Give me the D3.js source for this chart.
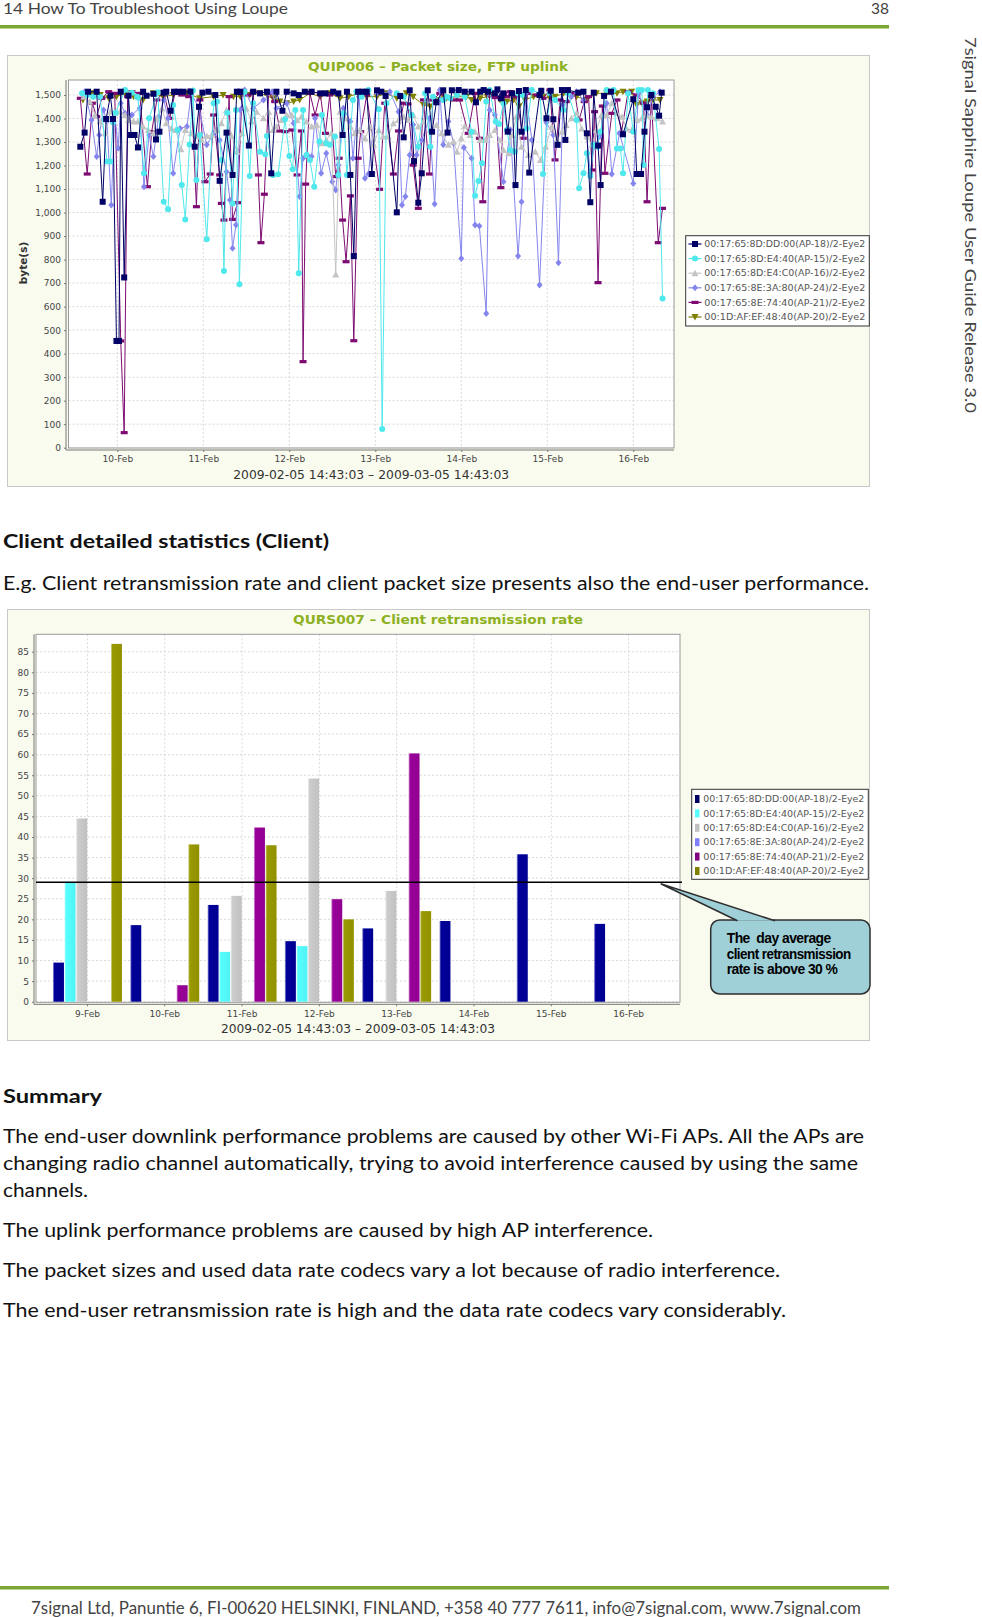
<!DOCTYPE html>
<html><head><meta charset="utf-8">
<script src="https://cdn.jsdelivr.net/npm/d3@7"></script>
<style>html,body{margin:0;padding:0;background:#fff;overflow:hidden}svg{display:block}</style>
</head><body><svg id="page"></svg>
<script>
// ---------------- DATA ----------------
const apNames = ["00:17:65:8D:DD:00(AP-18)/2-Eye2","00:17:65:8D:E4:40(AP-15)/2-Eye2","00:17:65:8D:E4:C0(AP-16)/2-Eye2","00:17:65:8E:3A:80(AP-24)/2-Eye2","00:17:65:8E:74:40(AP-21)/2-Eye2","00:1D:AF:EF:48:40(AP-20)/2-Eye2"];
const lineChartTitle = "QUIP006 \u2013 Packet size, FTP uplink";
const barChartTitle = "QURS007 \u2013 Client retransmission rate";
const dateRangeLabel = "2009-02-05 14:43:03 \u2013 2009-03-05 14:43:03";
const lineYLabel = "byte(s)";
const lineDays = [10,11,12,13,14,15,16];
const lineYTicks = [0,100,200,300,400,500,600,700,800,900,1000,1100,1200,1300,1400,1500];
const barDays = [9,10,11,12,13,14,15,16];
const barYTicks = [0,5,10,15,20,25,30,35,40,45,50,55,60,65,70,75,80,85];
const dayAverage = 29;
const calloutLines = ["The  day average","client retransmission","rate is above 30 %"];

// packet size series: [day of Feb, bytes]
const ap18 = [[9.57,1280],[9.62,1340],[9.66,1514],[9.76,1514],[9.83,1046],[9.87,1398],[9.92,1497],[9.95,1398],[9.99,454],[10.02,454],[10.04,1514],[10.08,724],[10.13,1497],[10.16,1330],[10.20,1330],[10.24,1277],[10.30,1514],[10.34,1497],[10.42,1505],[10.45,1311],[10.49,1344],[10.54,1510],[10.57,1514],[10.62,1433],[10.66,1514],[10.71,1514],[10.77,1514],[10.85,1514],[10.90,1280],[10.95,1450],[10.99,1510],[11.06,1514],[11.14,1500],[11.19,1135],[11.27,1340],[11.34,1160],[11.39,1514],[11.43,1514],[11.53,1285],[11.58,1514],[11.66,1507],[11.74,1514],[11.79,1167],[11.85,1514],[11.92,1433],[11.97,1514],[12.05,1507],[12.11,1500],[12.18,1514],[12.26,1514],[12.36,1507],[12.42,1507],[12.51,1514],[12.57,1507],[12.62,1330],[12.67,1514],[12.71,1160],[12.75,815],[12.80,1514],[12.85,1514],[12.90,1514],[12.96,1164],[13.02,1520],[13.07,1514],[13.12,1496],[13.25,1001],[13.29,1496],[13.33,1320],[13.40,1520],[13.45,1219],[13.50,1042],[13.54,1167],[13.61,1520],[13.66,1344],[13.71,1469],[13.79,1520],[13.84,1340],[13.89,1520],[13.97,1521],[14.04,1514],[14.12,1514],[14.17,1469],[14.22,1514],[14.26,1521],[14.31,1514],[14.39,1507],[14.42,1524],[14.46,1486],[14.49,1507],[14.54,1344],[14.59,1507],[14.63,1117],[14.67,1517],[14.70,1344],[14.75,1521],[14.79,1170],[14.91,1500],[14.93,1518],[14.99,1401],[15.04,1518],[15.07,1397],[15.12,1288],[15.17,1521],[15.21,1309],[15.24,1521],[15.36,1510],[15.42,1514],[15.46,1337],[15.50,1044],[15.54,1510],[15.59,1285],[15.62,1117],[15.66,1496],[15.74,1514],[15.88,1333],[16.00,1482],[16.04,1164],[16.09,1164],[16.13,1344],[16.16,1448],[16.21,1500],[16.26,1450],[16.30,1412],[16.33,1510]];
const ap15 = [[9.59,1507],[9.65,1500],[9.72,1493],[9.80,1493],[9.88,1217],[9.92,1217],[9.95,1384],[9.98,1425],[10.09,1521],[10.17,1510],[10.23,1493],[10.24,1489],[10.31,1167],[10.37,1401],[10.47,1512],[10.54,1046],[10.59,1014],[10.65,1458],[10.70,1351],[10.75,1117],[10.79,971],[10.84,1290],[10.88,1519],[10.92,1139],[10.96,1330],[11.04,886],[11.12,1465],[11.16,1472],[11.21,1224],[11.24,752],[11.28,1425],[11.34,1039],[11.38,1436],[11.42,695],[11.48,1514],[11.54,1156],[11.58,1465],[11.66,1259],[11.72,1248],[11.74,1326],[11.81,1160],[11.87,1163],[11.95,1397],[12.00,1241],[12.04,1184],[12.07,1436],[12.11,742],[12.16,1436],[12.20,1245],[12.24,1224],[12.29,1110],[12.35,1302],[12.38,1415],[12.43,1295],[12.47,1288],[12.53,1323],[12.57,1160],[12.63,1422],[12.67,1160],[12.74,1479],[12.78,1514],[12.84,1493],[12.92,1521],[13.04,1439],[13.08,79],[13.13,1465],[13.25,1507],[13.33,1493],[13.42,1415],[13.50,1280],[13.58,1507],[13.64,1280],[13.67,1493],[13.79,1479],[13.83,1493],[13.87,1486],[13.95,1500],[14.04,1493],[14.12,1344],[14.16,1072],[14.20,1134],[14.24,1210],[14.29,1472],[14.33,1521],[14.40,1387],[14.44,1377],[14.49,1465],[14.53,1351],[14.57,1266],[14.62,1259],[14.66,1507],[14.71,1500],[14.76,1358],[14.82,1521],[14.92,1507],[14.95,1164],[15.03,1507],[15.09,1479],[15.19,1436],[15.24,1507],[15.34,1394],[15.37,1103],[15.42,1167],[15.46,1252],[15.50,1156],[15.54,1288],[15.58,1280],[15.62,1344],[15.69,1521],[15.77,1521],[15.81,1273],[15.85,1273],[15.88,1167],[15.94,1507],[16.00,1344],[16.06,1521],[16.10,1521],[16.12,1202],[16.17,1521],[16.23,1507],[16.30,1270],[16.34,635]];
const ap16 = [[9.61,1493],[9.68,1472],[9.74,1415],[9.80,1387],[9.86,1337],[9.92,1429],[9.97,1422],[10.03,1429],[10.09,1415],[10.13,1394],[10.19,1387],[10.24,1387],[10.30,1366],[10.36,1351],[10.42,1337],[10.46,1401],[10.52,1443],[10.57,1380],[10.63,1358],[10.68,1351],[10.74,1269],[10.79,1351],[10.86,1337],[10.92,1323],[10.98,1309],[11.04,1326],[11.10,1330],[11.16,1351],[11.21,1380],[11.27,1436],[11.33,1326],[11.39,1259],[11.45,1337],[11.50,1443],[11.56,1387],[11.62,1429],[11.70,1401],[11.76,1429],[11.81,1351],[11.85,1366],[11.91,1394],[11.97,1415],[12.03,1415],[12.09,1394],[12.14,1408],[12.20,1387],[12.26,1366],[12.32,1373],[12.38,1295],[12.43,1309],[12.49,1337],[12.54,737],[12.59,1429],[12.65,1401],[12.71,1366],[12.76,1337],[12.82,1351],[12.88,1316],[12.94,1366],[12.98,1288],[13.04,1351],[13.09,1323],[13.15,1323],[13.21,1380],[13.27,1394],[13.33,1408],[13.38,1394],[13.44,1415],[13.50,1366],[13.56,1387],[13.64,1351],[13.71,1372],[13.77,1337],[13.85,1288],[13.91,1302],[13.95,1259],[14.00,1316],[14.04,1368],[14.10,1330],[14.16,1344],[14.22,1309],[14.28,1309],[14.33,1330],[14.39,1351],[14.45,1309],[14.49,1266],[14.55,1252],[14.59,1330],[14.64,1408],[14.70,1280],[14.78,1245],[14.86,1259],[14.92,1224],[14.98,1280],[15.05,1366],[15.11,1309],[15.17,1344],[15.22,1372],[15.28,1401],[15.34,1422],[15.40,1358],[15.46,1323],[15.52,1288],[15.57,1351],[15.63,1415],[15.69,1415],[15.75,1465],[15.81,1422],[15.87,1408],[15.92,1358],[15.98,1351],[16.04,1394],[16.10,1401],[16.15,1415],[16.21,1408],[16.27,1401],[16.34,1387]];
const ap24 = [[9.62,1514],[9.70,1394],[9.76,1238],[9.79,1330],[9.84,1436],[9.88,1387],[9.93,1032],[9.97,1422],[10.01,1274],[10.04,1465],[10.09,1422],[10.17,1415],[10.26,1444],[10.31,1110],[10.37,1330],[10.42,1238],[10.48,1408],[10.54,1479],[10.59,1401],[10.65,1167],[10.73,1358],[10.81,1366],[10.86,1507],[10.95,1444],[11.04,1288],[11.12,1337],[11.19,1309],[11.27,1174],[11.31,1053],[11.34,848],[11.38,947],[11.43,1436],[11.48,1521],[11.58,1444],[11.70,1479],[11.80,1514],[11.85,1444],[11.97,1465],[12.05,1380],[12.12,1068],[12.16,1231],[12.21,1245],[12.26,1238],[12.30,1401],[12.37,1167],[12.43,1252],[12.50,1131],[12.54,1096],[12.57,1202],[12.63,1444],[12.71,1387],[12.74,1231],[12.81,1493],[12.88,1146],[12.92,1164],[13.02,1507],[13.17,1514],[13.27,1429],[13.31,1032],[13.35,1068],[13.40,1245],[13.44,1373],[13.48,1245],[13.54,1309],[13.63,1401],[13.69,1036],[13.75,1521],[13.79,1288],[13.85,1387],[13.91,1295],[14.00,805],[14.03,1277],[14.12,1231],[14.16,947],[14.21,943],[14.29,571],[14.33,1436],[14.39,1415],[14.49,1131],[14.57,1352],[14.66,815],[14.70,1046],[14.75,1507],[14.82,1309],[14.91,692],[14.99,1383],[15.07,1330],[15.13,787],[15.18,1458],[15.28,1493],[15.34,1514],[15.42,1479],[15.50,1167],[15.54,1280],[15.61,1323],[15.69,1465],[15.75,1164],[15.84,1337],[16.00,1124],[16.06,1507],[16.16,1415],[16.23,1493],[16.31,1514]];
const ap21 = [[9.57,1486],[9.65,1164],[9.71,1465],[9.76,1408],[9.82,1486],[9.90,1514],[9.97,1507],[10.04,454],[10.08,64],[10.12,1493],[10.17,1514],[10.26,1507],[10.35,1110],[10.40,1344],[10.46,1479],[10.54,1514],[10.61,1401],[10.67,1507],[10.75,1500],[10.83,1493],[10.86,1521],[10.92,1025],[10.96,1479],[11.02,1131],[11.08,1164],[11.12,1415],[11.19,1160],[11.21,1039],[11.24,968],[11.30,1493],[11.34,971],[11.40,1042],[11.45,1507],[11.52,1500],[11.58,1514],[11.64,1160],[11.67,872],[11.71,1078],[11.76,1507],[11.83,1472],[11.89,1347],[11.95,1344],[12.03,1351],[12.09,1160],[12.14,1347],[12.16,366],[12.19,1121],[12.24,1507],[12.30,1415],[12.36,1507],[12.42,1337],[12.47,1500],[12.54,1153],[12.58,1231],[12.62,968],[12.66,791],[12.71,1071],[12.75,455],[12.80,1231],[12.83,1344],[12.90,1500],[13.05,1099],[13.11,1465],[13.21,1164],[13.27,1347],[13.33,1465],[13.38,1462],[13.44,1202],[13.50,1018],[13.56,1479],[13.63,1164],[13.67,1479],[13.75,1507],[13.83,1486],[13.91,1479],[13.98,1479],[14.08,1337],[14.16,1507],[14.21,1316],[14.25,1046],[14.33,1496],[14.39,1489],[14.46,1106],[14.49,1507],[14.53,1493],[14.57,1514],[14.64,1493],[14.72,1316],[14.77,1507],[14.88,1500],[14.95,1486],[15.03,1521],[15.09,1224],[15.15,1479],[15.22,1472],[15.32,1507],[15.37,1394],[15.43,1472],[15.48,1493],[15.52,1181],[15.55,1429],[15.59,702],[15.64,1453],[15.67,1167],[15.75,1422],[15.81,1479],[15.86,1337],[15.94,1514],[16.04,1500],[16.12,1465],[16.16,1046],[16.21,1493],[16.29,872],[16.34,1018]];
const ap20 = [[9.60,1479],[9.70,1507],[9.80,1500],[9.90,1486],[9.99,1493],[10.09,1507],[10.19,1493],[10.30,1479],[10.42,1507],[10.53,1493],[10.65,1500],[10.81,1507],[10.96,1486],[11.12,1493],[11.23,1500],[11.35,1493],[11.43,1493],[11.54,1500],[11.66,1507],[11.81,1486],[11.89,1472],[11.97,1465],[12.05,1472],[12.12,1479],[12.24,1507],[12.36,1493],[12.47,1507],[12.59,1486],[12.69,1493],[12.80,1507],[12.90,1493],[13.02,1493],[13.13,1507],[13.25,1486],[13.36,1507],[13.44,1493],[13.56,1458],[13.64,1451],[13.71,1479],[13.79,1493],[13.83,1486],[13.95,1493],[14.06,1493],[14.12,1479],[14.22,1486],[14.30,1493],[14.37,1500],[14.45,1479],[14.53,1472],[14.61,1479],[14.67,1451],[14.74,1479],[14.84,1493],[14.95,1493],[15.03,1486],[15.09,1493],[15.19,1507],[15.26,1500],[15.34,1493],[15.46,1479],[15.57,1507],[15.69,1507],[15.81,1507],[15.88,1514],[15.98,1514],[16.04,1458],[16.10,1465],[16.16,1472],[16.23,1479],[16.31,1479]];

// client retransmission rate per day (null = no bar)
const rate18 = [9.5, 18.6, 23.5, 14.7, 17.8, 19.6, 35.8, 18.9];
const rate15 = [28.9, null, 12.1, 13.5, null, null, null, null];
const rate16 = [44.5, null, 25.7, 54.2, 26.9, null, null, null];
const rate24 = [null, null, null, null, null, null, null, null];
const rate21 = [null, 4.0, 42.3, 24.9, 60.3, null, null, null];
const rate20 = [86.9, 38.2, 38.0, 20.0, 22.0, null, null, null];

// ---------------- PAGE ----------------
const W = 982, H = 1617;
const svg = d3.select("#page").attr("width", W).attr("height", H);
svg.append("rect").attr("width", W).attr("height", H).attr("fill", "#fff");
const defs = svg.append("defs");

function txt(g, x, y, s, o) {
  const t = g.append("text").attr("x", x).attr("y", y).text(s)
    .attr("font-family", o.family || "Lato, 'Open Sans', sans-serif")
    .attr("font-size", o.size || 19.5)
    .attr("font-weight", o.weight || 400)
    .attr("fill", o.fill || "#111")
    .attr("text-anchor", o.anchor || "start");
  if (o.len) t.attr("textLength", o.len).attr("lengthAdjust", "spacingAndGlyphs");
  if (o.transform) t.attr("transform", o.transform);
  return t;
}

// header / footer
txt(svg, 3, 14, "14 How To Troubleshoot Using Loupe", {size: 15.5, fill: "#444", len: 285});
txt(svg, 889, 14, "38", {size: 15.5, fill: "#444", anchor: "end"});
svg.append("rect").attr("x", 0).attr("y", 25).attr("width", 889).attr("height", 3.5).attr("fill", "#7aa832");
svg.append("rect").attr("x", 0).attr("y", 1586).attr("width", 889).attr("height", 3.5).attr("fill", "#7aa832");
txt(svg, 31, 1614, "7signal Ltd, Panuntie 6, FI-00620 HELSINKI, FINLAND, +358 40 777 7611, info@7signal.com, www.7signal.com", {size: 17.5, fill: "#444", len: 830});
txt(svg, 0, 0, "7signal Sapphire Loupe User Guide Release 3.0", {size: 15.5, fill: "#444", len: 376, transform: "translate(965,37) rotate(90)"});

// body text
txt(svg, 3, 548.3, "Client detailed statistics (Client)", {weight: 700, len: 326});
txt(svg, 3, 590, "E.g. Client retransmission rate and client packet size presents also the end-user performance.", {len: 866});
txt(svg, 3, 1103.3, "Summary", {weight: 700, len: 99});
txt(svg, 3, 1142.7, "The end-user downlink performance problems are caused by other Wi-Fi APs. All the APs are", {len: 861});
txt(svg, 3, 1170, "changing radio channel automatically, trying to avoid interference caused by using the same", {len: 855});
txt(svg, 3, 1197.3, "channels.", {len: 85});
txt(svg, 3, 1236.7, "The uplink performance problems are caused by high AP interference.", {len: 650});
txt(svg, 3, 1276.7, "The packet sizes and used data rate codecs vary a lot because of radio interference.", {len: 777});
txt(svg, 3, 1316.7, "The end-user retransmission rate is high and the data rate codecs vary considerably.", {len: 783});

const CF = "'DejaVu Sans', Verdana, sans-serif";
const titleColor = "#8cb021";
const panelFill = "#f9fbee";

// ---------------- LINE CHART ----------------
(function () {
  const g = svg.append("g");
  g.append("rect").attr("x", 7.5).attr("y", 55.5).attr("width", 862).attr("height", 431)
    .attr("fill", panelFill).attr("stroke", "#c8c8c8");
  txt(g, 438, 70.5, lineChartTitle, {family: CF, size: 13, weight: 700, fill: titleColor, anchor: "middle", len: 260});
  const L = 68.5, R = 674, T = 80, B = 448;
  const x = d3.scaleLinear().domain([10, 16]).range([117.3, 633.3]);
  const y = d3.scaleLinear().domain([0, 1500]).range([447.7, 95]);
  g.append("rect").attr("x", L).attr("y", T).attr("width", R - L).attr("height", B - T).attr("fill", "#fff");
  const grid = g.append("g").attr("stroke", "#cfcfcf").attr("stroke-width", 0.8).attr("stroke-dasharray", "2,2");
  lineYTicks.forEach(v => grid.append("line").attr("x1", L).attr("x2", R).attr("y1", y(v)).attr("y2", y(v)));
  lineDays.forEach(d => grid.append("line").attr("x1", x(d)).attr("x2", x(d)).attr("y1", T).attr("y2", B));
  g.append("rect").attr("x", L).attr("y", T).attr("width", R - L).attr("height", B - T)
    .attr("fill", "none").attr("stroke", "#9a9a9a");

  const clipId = "clipL";
  defs.append("clipPath").attr("id", clipId).append("rect").attr("x", L).attr("y", T - 6).attr("width", R - L).attr("height", B - T + 6);

  const series = [
    {name: apNames[0], data: ap18, color: "#000066", shape: "square"},
    {name: apNames[1], data: ap15, color: "#4fe8ec", shape: "circle"},
    {name: apNames[2], data: ap16, color: "#c4c4c4", shape: "triUp"},
    {name: apNames[3], data: ap24, color: "#8585ee", shape: "diamond"},
    {name: apNames[4], data: ap21, color: "#7d0b72", shape: "hrect"},
    {name: apNames[5], data: ap20, color: "#7f7f00", shape: "triDown"}
  ];
  function marker(sel, shape, color, cx, cy) {
    if (shape === "square") sel.append("rect").attr("x", cx - 3).attr("y", cy - 3).attr("width", 6).attr("height", 6).attr("fill", color);
    else if (shape === "circle") sel.append("circle").attr("cx", cx).attr("cy", cy).attr("r", 3).attr("fill", color);
    else if (shape === "triUp") sel.append("path").attr("d", `M${cx},${cy - 3.5}L${cx + 3.5},${cy + 3}L${cx - 3.5},${cy + 3}Z`).attr("fill", color);
    else if (shape === "diamond") sel.append("path").attr("d", `M${cx},${cy - 3.5}L${cx + 3},${cy}L${cx},${cy + 3.5}L${cx - 3},${cy}Z`).attr("fill", color);
    else if (shape === "hrect") sel.append("rect").attr("x", cx - 3.5).attr("y", cy - 1.6).attr("width", 7).attr("height", 3.2).attr("fill", color);
    else if (shape === "triDown") sel.append("path").attr("d", `M${cx - 3.5},${cy - 3}L${cx + 3.5},${cy - 3}L${cx},${cy + 3.5}Z`).attr("fill", color);
  }
  const plot = g.append("g").attr("clip-path", `url(#${clipId})`);
  const line = d3.line().x(d => x(d[0])).y(d => y(d[1]));
  series.slice().reverse().forEach(s => {
    const sg = plot.append("g");
    sg.append("path").attr("d", line(s.data)).attr("fill", "none").attr("stroke", s.color).attr("stroke-width", 1);
    s.data.forEach(d => marker(sg, s.shape, s.color, x(d[0]), y(d[1])));
  });

  // axes
  const ya = g.append("g").attr("transform", "translate(66,0)")
    .call(d3.axisLeft(y).tickValues(lineYTicks).tickFormat(d3.format(",")).tickSize(2).tickPadding(3));
  ya.select(".domain").remove();
  ya.selectAll("text").attr("font-family", CF).attr("font-size", 9).attr("fill", "#444");
  ya.selectAll("line").attr("stroke", "#777");
  g.append("line").attr("x1", 66).attr("x2", 66).attr("y1", T).attr("y2", B + 2).attr("stroke", "#777");
  const xa = g.append("g").attr("transform", `translate(0,${B + 2})`)
    .call(d3.axisBottom(x).tickValues(lineDays).tickFormat(d => d + "-Feb").tickSize(2).tickPadding(4));
  xa.select(".domain").remove();
  xa.selectAll("text").attr("font-family", CF).attr("font-size", 9).attr("fill", "#444");
  xa.selectAll("line").attr("stroke", "#777");
  g.append("line").attr("x1", 66).attr("x2", R).attr("y1", B + 2).attr("y2", B + 2).attr("stroke", "#777");
  txt(g, 371.2, 479, dateRangeLabel, {family: CF, size: 12, fill: "#333", anchor: "middle", len: 276});
  txt(g, 0, 0, lineYLabel, {family: CF, size: 10.5, weight: 700, fill: "#333", anchor: "middle", transform: "translate(27,263) rotate(-90)"});

  // legend
  const lg = g.append("g");
  lg.append("rect").attr("x", 685.7).attr("y", 235.7).attr("width", 183.6).attr("height", 90.3).attr("fill", "#fff").attr("stroke", "#333");
  series.forEach((s, i) => {
    const cy = 244 + i * 14.6;
    lg.append("line").attr("x1", 688.5).attr("x2", 701.5).attr("y1", cy).attr("y2", cy).attr("stroke", s.color).attr("stroke-width", 1.2);
    marker(lg, s.shape, s.color, 695, cy);
    txt(lg, 704.3, cy + 3.2, s.name, {family: CF, size: 8.5, fill: "#555", len: 161});
  });
})();

// ---------------- BAR CHART ----------------
(function () {
  const g = svg.append("g");
  g.append("rect").attr("x", 7.5).attr("y", 609.5).attr("width", 862).attr("height", 431)
    .attr("fill", panelFill).attr("stroke", "#c8c8c8");
  txt(g, 438, 624.3, barChartTitle, {family: CF, size: 13, weight: 700, fill: titleColor, anchor: "middle", len: 290});
  const L = 36, R = 680, T = 634.3, B = 1002.3;
  const x = d3.scaleBand().domain(barDays).range([L, R]).paddingInner(0.1).paddingOuter(0.2155);
  const y = d3.scaleLinear().domain([0, 85]).range([1001.7, 651.7]);
  g.append("rect").attr("x", L).attr("y", T).attr("width", R - L).attr("height", B - T).attr("fill", "#fff");
  const grid = g.append("g").attr("stroke", "#cfcfcf").attr("stroke-width", 0.8).attr("stroke-dasharray", "2,2");
  barYTicks.forEach(v => grid.append("line").attr("x1", L).attr("x2", R).attr("y1", y(v)).attr("y2", y(v)));
  barDays.forEach(d => grid.append("line").attr("x1", x(d) + x.bandwidth() / 2).attr("x2", x(d) + x.bandwidth() / 2).attr("y1", T).attr("y2", B));
  g.append("rect").attr("x", L).attr("y", T).attr("width", R - L).attr("height", B - T)
    .attr("fill", "none").attr("stroke", "#9a9a9a");

  const series = [
    {name: apNames[0], vals: rate18, color: "#000099", key: "#000066"},
    {name: apNames[1], vals: rate15, color: "#55ffff", key: "#55ffff"},
    {name: apNames[2], vals: rate16, color: "#cccccc", key: "#c0c0c0"},
    {name: apNames[3], vals: rate24, color: "#8080ff", key: "#8080ff"},
    {name: apNames[4], vals: rate21, color: "#990099", key: "#800080"},
    {name: apNames[5], vals: rate20, color: "#999900", key: "#808000"}
  ];
  const inner = d3.scaleBand().domain(d3.range(series.length)).range([0, x.bandwidth()]);
  series.forEach((s, i) => {
    const gid = "bg" + i;
    const lg = defs.append("linearGradient").attr("id", gid).attr("x1", 0).attr("x2", 1).attr("y1", 0).attr("y2", 0);
    const light = d3.interpolateRgb(s.color, "#ffffff")(0.65);
    lg.append("stop").attr("offset", "0%").attr("stop-color", light);
    lg.append("stop").attr("offset", "14%").attr("stop-color", s.color);
    lg.append("stop").attr("offset", "100%").attr("stop-color", d3.color(s.color).darker(0.15));
    const bars = g.append("g");
    barDays.forEach((d, j) => {
      const v = s.vals[j];
      if (v == null) return;
      bars.append("rect").attr("x", x(d) + inner(i) + 0.3).attr("width", inner.bandwidth() - 0.6)
        .attr("y", y(v)).attr("height", y(0) - y(v)).attr("fill", `url(#${gid})`);
    });
  });

  const ya = g.append("g").attr("transform", "translate(34,0)")
    .call(d3.axisLeft(y).tickValues(barYTicks).tickSize(2).tickPadding(3));
  ya.select(".domain").remove();
  ya.selectAll("text").attr("font-family", CF).attr("font-size", 9).attr("fill", "#444");
  ya.selectAll("line").attr("stroke", "#777");
  g.append("line").attr("x1", 34).attr("x2", 34).attr("y1", T).attr("y2", B + 2).attr("stroke", "#777");
  const xa = g.append("g").attr("transform", `translate(0,${B + 2})`)
    .call(d3.axisBottom(x).tickFormat(d => d + "-Feb").tickSize(2).tickPadding(4));
  xa.select(".domain").remove();
  xa.selectAll("text").attr("font-family", CF).attr("font-size", 9).attr("fill", "#444");
  xa.selectAll("line").attr("stroke", "#777");
  g.append("line").attr("x1", 34).attr("x2", R).attr("y1", B + 2).attr("y2", B + 2).attr("stroke", "#777");
  txt(g, 358, 1032.7, dateRangeLabel, {family: CF, size: 12, fill: "#333", anchor: "middle", len: 274});

  // legend
  const lg = g.append("g");
  lg.append("rect").attr("x", 691.7).attr("y", 789.3).attr("width", 176.6).attr("height", 90).attr("fill", "#fff").attr("stroke", "#333");
  series.forEach((s, i) => {
    const cy = 799 + i * 14.4;
    lg.append("rect").attr("x", 695).attr("y", cy - 4).attr("width", 4.5).attr("height", 8).attr("fill", s.key);
    txt(lg, 703.3, cy + 3.2, s.name, {family: CF, size: 8.5, fill: "#555", len: 161});
  });

  // average line + callout
  g.append("line").attr("x1", L).attr("x2", 682).attr("y1", y(dayAverage)).attr("y2", y(dayAverage)).attr("stroke", "#000").attr("stroke-width", 1.6);
  const tip = [660.7, y(dayAverage) + 1.5], b1 = [737.5, 920.8], b2 = [775, 920.8];
  g.append("rect").attr("x", 710.7).attr("y", 920).attr("width", 159.3).attr("height", 74).attr("rx", 9)
    .attr("fill", "#9fcfd7").attr("stroke", "#2e2e2e").attr("stroke-width", 1.5);
  g.append("path").attr("d", `M${tip}L${b1}L${b2}Z`).attr("fill", "#9fcfd7");
  g.append("path").attr("d", `M${b1}L${tip}L${b2}`).attr("fill", "none").attr("stroke", "#2e2e2e").attr("stroke-width", 1.5);
  const CL = "'Liberation Sans Narrow', 'Liberation Sans', Arial, sans-serif";
  const clLens = [104, 124, 110.7];
  const clY = [943.3, 958.5, 974];
  calloutLines.forEach((s, i) => txt(g, 726.7, clY[i], s, {family: CL, size: 15, weight: 700, fill: "#000", len: clLens[i]})
    .attr("xml:space", "preserve").style("white-space", "pre").style("letter-spacing", "-0.6px"));
})();
</script></body></html>
